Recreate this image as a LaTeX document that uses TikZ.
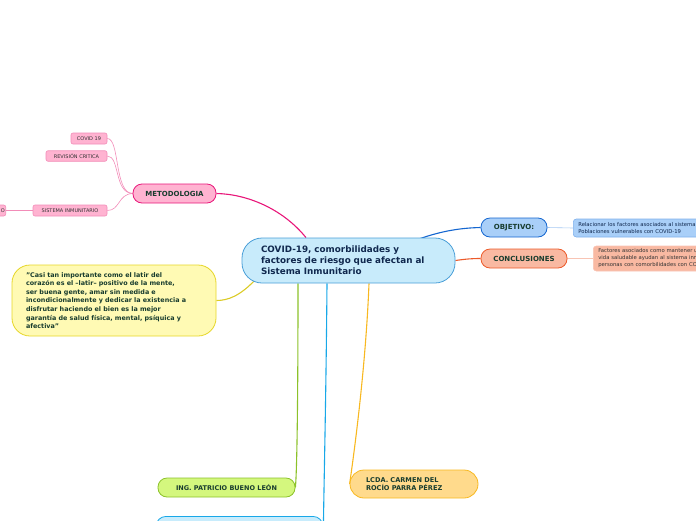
\documentclass[tikz,border=0pt]{standalone}
\usepackage{fontspec}
\setmainfont{DejaVu Sans}
\usetikzlibrary{backgrounds}

\definecolor{mainfill}{HTML}{C8EBFB}
\definecolor{maindraw}{HTML}{4A9FD8}
\definecolor{maintext}{HTML}{10284E}
\definecolor{darktext}{HTML}{183C2E}
\definecolor{metfill}{HTML}{FFB3D1}
\definecolor{metdraw}{HTML}{E8177A}
\definecolor{leafdraw}{HTML}{F28CB8}
\definecolor{objfill}{HTML}{A9CFF8}
\definecolor{objdraw}{HTML}{1466D0}
\definecolor{objsoft}{HTML}{7FB0EC}
\definecolor{confill}{HTML}{F9B9A2}
\definecolor{condraw}{HTML}{EC5A2A}
\definecolor{consoft}{HTML}{F8C4B4}
\definecolor{quofill}{HTML}{FFFAB4}
\definecolor{quodraw}{HTML}{E6D628}
\definecolor{ingfill}{HTML}{D4F77E}
\definecolor{ingdraw}{HTML}{8CC22A}
\definecolor{botfill}{HTML}{C8ECFC}
\definecolor{botdraw}{HTML}{18A8E8}
\definecolor{lcdfill}{HTML}{FFDA8C}
\definecolor{lcddraw}{HTML}{F8B820}

\tikzset{
  mapbox/.style={draw, line width=0.8pt, inner ysep=0pt, text=darktext},
  pillbox/.style={mapbox, rounded corners=9pt, minimum height=19pt, inner xsep=0pt,
    font=\fontsize{7}{8}\bfseries},
  leafbox/.style={draw=leafdraw, fill=metfill, line width=0.6pt, rounded corners=2pt,
    minimum height=11pt, inner xsep=0pt, inner ysep=0pt, text=black!80,
    font=\fontsize{5}{5.5}\selectfont},
  notebox/.style={line width=0.6pt, rounded corners=3pt, inner xsep=5pt, inner ysep=0pt,
    align=left, text width=200pt, anchor=west, font=\fontsize{5.3}{7}\selectfont},
  branch/.style={line width=1.1pt},
  twig/.style={line width=0.6pt}
}

\begin{document}
\begin{tikzpicture}[x=1pt,y=-1pt]
\useasboundingbox (0,0) rectangle (696,520);

% centre
\node[mapbox, fill=mainfill, draw=maindraw, text=maintext, rounded corners=20pt,
  minimum height=45pt, inner xsep=19pt, text width=175pt, align=left,
  font=\fontsize{8.8}{11}\bfseries] (tema) at (348.5,260.5)
  {COVID-19, comorbilidades y\\factores de riesgo que afectan al\\Sistema Inmunitario};

% metodologia
\node[pillbox, fill=metfill, draw=metdraw, minimum width=83pt] (metodo) at (174.5,193.5) {METODOLOGIA};
\node[leafbox, minimum width=36pt] (covid) at (89,138.5) {COVID 19};
\node[leafbox, minimum width=61pt, minimum height=10.5pt] (revision) at (76.5,156) {REVISIÓN CRITICA};
\node[leafbox, minimum width=74pt] (sistema) at (70,210.5) {SISTEMA INMUNITARIO};
\node[leafbox, minimum width=40pt, text width=38pt, align=right, anchor=east] (envej) at (6,210.5) {O};

% objetivo y conclusiones
\node[pillbox, fill=objfill, draw=objdraw, minimum width=66pt] (objetivo) at (514,227.5) {OBJETIVO:};
\node[notebox, fill=objfill, draw=objsoft, text=maintext, minimum height=18pt] (objnota) at (573,228)
  {Relacionar los factores asociados al sistema inmunitario en\\Poblaciones vulnerables con COVID-19};
\node[pillbox, fill=confill, draw=condraw, minimum width=86pt] (conclu) at (524,258.5) {CONCLUSIONES};
\node[notebox, fill=confill, draw=consoft, text=black!80, minimum height=25pt] (connota) at (593,258.5)
  {Factores asociados como mantener un estilo de\\vida saludable ayudan al sistema inmunitario en\\personas con comorbilidades con COVID-19};

% cita
\node[mapbox, fill=quofill, draw=quodraw, rounded corners=18pt, minimum height=71pt,
  inner xsep=14pt, text width=176pt, align=left, font=\fontsize{6.4}{8.6}\bfseries] (cita) at (114,300.5)
  {"Casi tan importante como el latir del\\corazón es el –latir– positivo de la mente,\\ser buena gente, amar sin medida e\\incondicionalmente y dedicar la existencia a\\disfrutar haciendo el bien es la mejor\\garantía de salud física, mental, psíquica y\\afectiva"};

% autores
\node[pillbox, fill=ingfill, draw=ingdraw, minimum width=137pt, font=\fontsize{6.5}{8}\bfseries] (ing) at (226.5,487.5) {ING. PATRICIO BUENO LEÓN};
\node[mapbox, fill=botfill, draw=botdraw, rounded corners=10pt, minimum width=167pt,
  minimum height=22pt, anchor=north] (tutor) at (239.5,516) {};
\node[mapbox, fill=lcdfill, draw=lcddraw, rounded corners=14pt, minimum height=28pt,
  inner xsep=16pt, text width=96pt, align=left, font=\fontsize{6.6}{8.5}\bfseries] (lcda) at (414,484)
  {LCDA. CARMEN DEL\\ROCÍO PARRA PÉREZ};

\begin{scope}[on background layer]
\draw[branch, metdraw] ([xshift=-42.5pt]tema.north) .. controls (282,208) and (246,194) .. (metodo.east);
\draw[branch, objdraw] ([xshift=71.5pt,yshift=-1pt]tema.north) .. controls (442,231) and (460,228) .. (objetivo.west);
\draw[branch, condraw] (tema.east) .. controls (466,259) and (472,258.5) .. (conclu.west);
\draw[branch, quodraw!95!black] ([xshift=14pt,yshift=4pt]tema.south west) .. controls (240,296) and (228,300.5) .. (cita.east);
\draw[branch, ingdraw] ([xshift=-50.5pt]tema.south) .. controls (298,400) and (297,470) .. (ing.east);
\draw[branch, botdraw] ([xshift=-21.5pt]tema.south) .. controls (326,400) and (324,480) .. (tutor.east);
\draw[branch, lcddraw] ([xshift=20.5pt]tema.south) .. controls (366,360) and (356,440) .. (lcda.west);
\draw[twig, leafdraw] (metodo.west) .. controls (114,193) and (120,138.5) .. (covid.east);
\draw[twig, leafdraw] (metodo.west) .. controls (114,193) and (120,156) .. (revision.east);
\draw[twig, leafdraw] (metodo.west) .. controls (118,194) and (120,210.5) .. (sistema.east);
\draw[twig, leafdraw] (sistema.west) -- (envej.east);
\draw[twig, objsoft!70] (objetivo.east) -- (objnota.west);
\draw[twig, consoft] (conclu.east) -- (connota.west);
\end{scope}
\end{tikzpicture}
\end{document}
